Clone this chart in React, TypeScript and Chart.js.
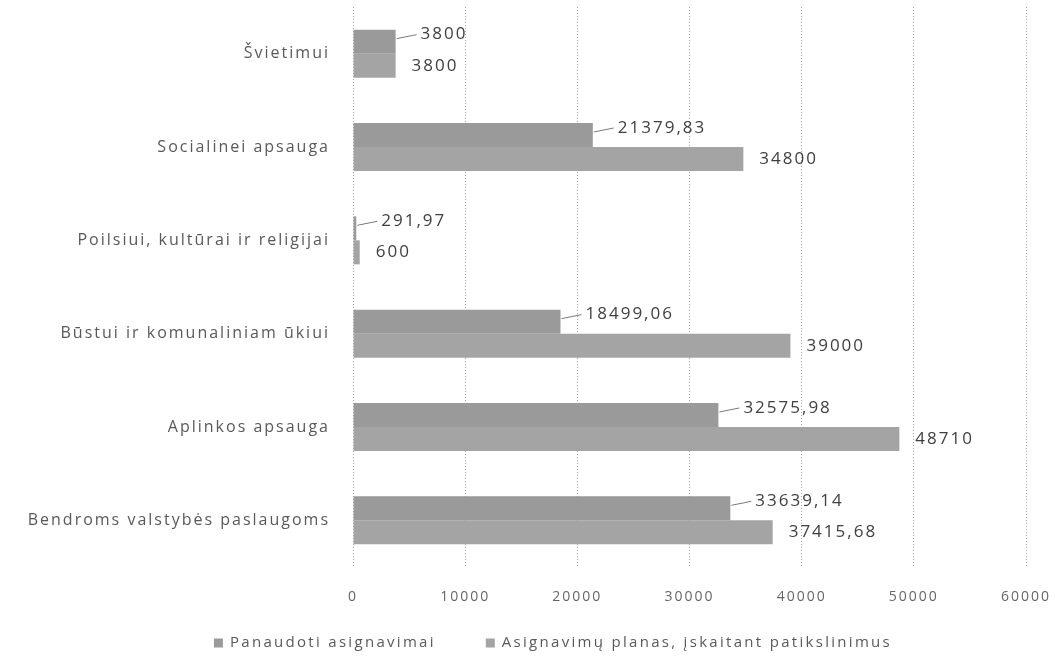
import React, { useEffect, useRef } from "react";
import { Chart, registerables } from "chart.js";

Chart.register(...registerables);

const categories = [
  "Švietimui",
  "Socialinei apsauga",
  "Poilsiui, kultūrai ir religijai",
  "Būstui ir komunaliniam ūkiui",
  "Aplinkos apsauga",
  "Bendroms valstybės paslaugoms",
];
const seriesNames = ["Panaudoti asignavimai", "Asignavimų planas, įskaitant patikslinimus"];
const usedValues = [3800, 21379.83, 291.97, 18499.06, 32575.98, 33639.14];
const planValues = [3800, 34800, 600, 39000, 48710, 37415.68];
const seriesColors = ["#9a9a9a", "#a4a4a4"];
const xMin = 0;
const xMax = 60000;
const xStep = 10000;

const formatValue = (v: number) => String(v).replace(".", ",");

const spacingPlugin = {
  id: "letterSpacing",
  beforeUpdate(chart: any) {
    chart.ctx.letterSpacing = "2px";
  },
  beforeDraw(chart: any) {
    chart.ctx.letterSpacing = "2px";
  },
};

const valueLabelPlugin = {
  id: "valueLabels",
  afterDatasetsDraw(chart: any) {
    const ctx = chart.ctx;
    ctx.save();
    ctx.letterSpacing = "2px";
    ctx.font = '17px "Open Sans"';
    ctx.fillStyle = "#404040";
    ctx.textBaseline = "middle";
    ctx.textAlign = "left";
    ctx.strokeStyle = "#7a7a7a";
    ctx.lineWidth = 1;
    chart.data.datasets.forEach((ds: any, di: number) => {
      const meta = chart.getDatasetMeta(di);
      meta.data.forEach((el: any, i: number) => {
        const text = formatValue(ds.data[i]);
        const isUsed = di === 0;
        const tx = el.x + (isUsed ? 25 : 16);
        const ty = el.y + (isUsed ? -7 : 0);
        if (isUsed) {
          ctx.beginPath();
          ctx.moveTo(el.x + 1, el.y - 3);
          ctx.lineTo(tx - 4, ty);
          ctx.stroke();
        }
        ctx.fillText(text, tx, ty);
      });
    });
    ctx.restore();
  },
};

// Legend drawn on the canvas, centred under the chart like the reference
const legendPlugin = {
  id: "customLegend",
  afterDraw(chart: any) {
    const ctx = chart.ctx;
    ctx.save();
    ctx.letterSpacing = "2.3px";
    ctx.font = '15px "Open Sans"';
    ctx.textBaseline = "middle";
    ctx.textAlign = "left";
    const box = 9;
    const boxGap = 7;
    const itemGap = 50;
    const items = chart.data.datasets.map((ds: any) => ({
      text: ds.label,
      color: ds.backgroundColor,
      w: box + boxGap + ctx.measureText(ds.label).width,
    }));
    const total = items.reduce((s: number, it: any) => s + it.w, 0) + itemGap * (items.length - 1);
    const centerX = 553;
    const y = 643;
    let x = centerX - total / 2;
    items.forEach((it: any) => {
      ctx.fillStyle = it.color;
      ctx.fillRect(x, y - box / 2, box, box);
      ctx.fillStyle = "#595959";
      ctx.fillText(it.text, x + box + boxGap, y);
      x += it.w + itemGap;
    });
    ctx.restore();
  },
};

export default function App() {
  const canvasRef = useRef<HTMLCanvasElement | null>(null);

  useEffect(() => {
    if (!canvasRef.current) return;
    const chart = new Chart(canvasRef.current, {
      type: "bar",
      data: {
        labels: categories,
        datasets: [
          {
            label: seriesNames[0],
            data: usedValues,
            backgroundColor: seriesColors[0],
            categoryPercentage: 0.515,
            barPercentage: 1.0,
          },
          {
            label: seriesNames[1],
            data: planValues,
            backgroundColor: seriesColors[1],
            categoryPercentage: 0.515,
            barPercentage: 1.0,
          },
        ],
      },
      options: {
        indexAxis: "y",
        responsive: false,
        animation: false,
        layout: { padding: { left: 5, right: 37, top: 7, bottom: 40 } },
        scales: {
          x: {
            min: xMin,
            max: xMax,
            ticks: {
              stepSize: xStep,
              padding: 22,
              color: "#666666",
              font: { family: '"Open Sans"', size: 14 },
              callback: (v: any) => String(v),
            },
            grid: { color: "rgba(0,0,0,0.35)", drawTicks: false },
            border: { display: false, dash: [1, 2] },
            afterFit: (scale: any) => {
              scale.height = 59;
              scale.paddingLeft = 0;
              scale.paddingRight = 0;
            },
          },
          y: {
            ticks: {
              padding: 23,
              color: "#595959",
              font: { family: '"Open Sans"', size: 16 },
            },
            grid: { display: false, drawTicks: false },
            border: { display: false },
            afterFit: (scale: any) => {
              scale.width = 348;
              scale.paddingTop = 0;
              scale.paddingBottom = 0;
            },
          },
        },
        plugins: {
          legend: { display: false },
          tooltip: { enabled: false },
        },
      },
      plugins: [spacingPlugin, valueLabelPlugin, legendPlugin],
    } as any);
    return () => chart.destroy();
  }, []);

  return (
    <div style={{ position: "fixed", left: 0, top: 0, width: 1063, height: 666, background: "#ffffff" }}>
      <canvas ref={canvasRef} width={1063} height={666} style={{ display: "block" }} />
    </div>
  );
}
